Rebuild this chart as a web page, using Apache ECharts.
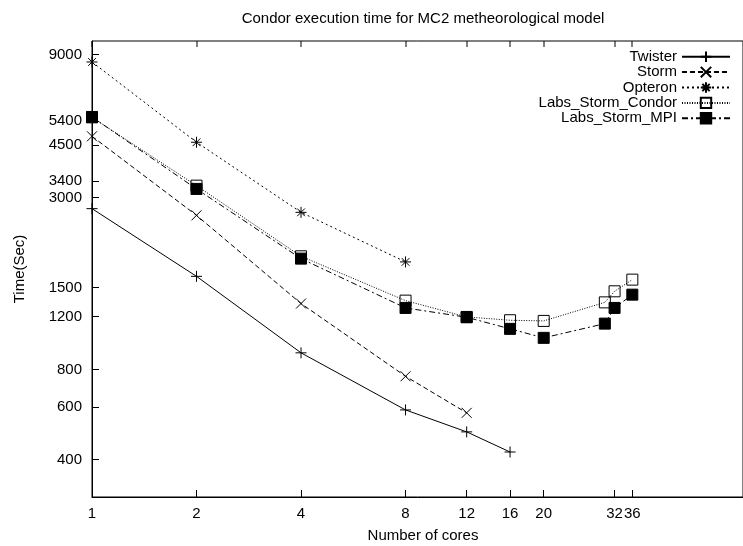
<!DOCTYPE html>
<html>
<head>
<meta charset="utf-8">
<script src="https://cdn.jsdelivr.net/npm/echarts@6/dist/echarts.min.js"></script>
<style>
html,body{margin:0;padding:0;background:#fff;}
#c{width:743px;height:546px;}
</style>
</head>
<body>
<div id="c"></div>
<script>
// ---- data ----
var xTicks = [1, 2, 4, 8, 12, 16, 20, 32, 36];
var yTicks = [400, 600, 800, 1200, 1500, 3000, 3400, 4500, 5400, 9000];

var twisterX = [1, 2, 4, 8, 12, 16];
var twisterY = [2755, 1637, 909, 586, 495, 424];

var stormX = [1, 2, 4, 8, 12];
var stormY = [4805, 2617, 1328, 759, 573];

var opteronX = [1, 2, 4, 8];
var opteronY = [8510, 4590, 2678, 1829];

var condorX = [1, 2, 4, 8, 12, 16, 20, 30, 32, 36];
var condorY = [5560, 3288, 1910, 1358, 1198, 1168, 1162, 1340, 1459, 1596];

var mpiX = [1, 2, 4, 8, 12, 16, 20, 30, 32, 36];
var mpiY = [5576, 3206, 1876, 1284, 1195, 1093, 1020, 1138, 1284, 1422];

var titleText = 'Condor execution time for MC2 metheorological model';
var xName = 'Number of cores';
var yName = 'Time(Sec)';

function pairs(xs, ys) { return xs.map(function (x, i) { return [x, ys[i]]; }); }

var FONT = 'Liberation Sans';
var chart = echarts.init(document.getElementById('c'), null, {renderer: 'canvas'});

var base = {
  type: 'line',
  showSymbol: true,
  animation: false,
  clip: false,
  emphasis: {disabled: true}
};

function mk(name, xs, ys, sym, size, dash, fill) {
  return Object.assign({}, base, {
    name: name,
    data: pairs(xs, ys),
    symbol: sym,
    symbolSize: size,
    itemStyle: {color: fill, borderColor: '#000', borderWidth: 1},
    lineStyle: {color: '#000', width: 1, type: dash}
  });
}

var XMAX = 75;
var YMIN = 300, YMAX = 10000;

var option = {
  animation: false,
  backgroundColor: '#fff',
  textStyle: {fontFamily: FONT},
  grid: {left: 92, right: 0, top: 41, bottom: 49, containLabel: false,
    show: true, borderColor: '#000', borderWidth: 1, backgroundColor: 'rgba(0,0,0,0)'},
  legend: {
    orient: 'vertical',
    align: 'right',
    right: 7,
    top: 44,
    itemWidth: 48,
    itemHeight: 13,
    itemGap: 0,
    textStyle: {fontFamily: FONT, fontSize: 15, color: '#000', lineHeight: 15.4, padding: [0, 0, 0, 0]},
    data: ['Twister', 'Storm', 'Opteron', 'Labs_Storm_Condor', 'Labs_Storm_MPI']
  },
  xAxis: [{
    type: 'log', logBase: 2, min: 1, max: XMAX, position: 'bottom',
    axisLine: {show: true, onZero: false, lineStyle: {color: '#000', width: 1}},
    axisTick: {show: true, inside: true, length: 7, customValues: xTicks, lineStyle: {color: '#000'}},
    axisLabel: {show: true, customValues: xTicks, margin: 9, fontSize: 15, color: '#000', fontFamily: FONT, hideOverlap: false,
      formatter: function (v) { return String(Math.round(v)); }},
    splitLine: {show: false}, minorTick: {show: false}
  }],
  yAxis: [{
    type: 'log', logBase: 10, min: YMIN, max: YMAX,
    axisLine: {show: true, onZero: false, lineStyle: {color: '#000', width: 1}},
    axisTick: {show: true, inside: true, length: 7, customValues: yTicks, lineStyle: {color: '#000'}},
    axisLabel: {show: true, customValues: yTicks, margin: 10, fontSize: 15, color: '#000', fontFamily: FONT,
      formatter: function (v) { return String(Math.round(v)); }},
    splitLine: {show: false}, minorTick: {show: false}
  }],
  graphic: [
    {type: 'text', x: 423, y: 19, style: {text: titleText, fontSize: 15, fontFamily: FONT, fill: '#000', align: 'center', verticalAlign: 'middle'}},
    {type: 'text', x: 423, y: 536, style: {text: xName, fontSize: 15, fontFamily: FONT, fill: '#000', align: 'center', verticalAlign: 'middle'}},
    {type: 'text', x: 20, y: 269, rotation: Math.PI / 2, style: {text: yName, fontSize: 15, fontFamily: FONT, fill: '#000', align: 'center', verticalAlign: 'middle'}}
  ],
  series: [
    mk('Twister', twisterX, twisterY, 'path://M0,5L10,5M5,0L5,10', 11, 'solid', '#000'),
    mk('Storm', stormX, stormY, 'path://M0,0L10,10M10,0L0,10', 10, [5, 3], '#000'),
    mk('Opteron', opteronX, opteronY, 'path://M0,5L10,5M5,0L5,10M1.5,1.5L8.5,8.5M8.5,1.5L1.5,8.5', 11, [2, 3], '#000'),
    mk('Labs_Storm_Condor', condorX, condorY, 'rect', 11, [1, 1.5], 'rgba(0,0,0,0)'),
    mk('Labs_Storm_MPI', mpiX, mpiY, 'rect', 11, [6, 3, 2, 3], '#000'),
    {
      type: 'custom', name: '_topticks', silent: true, animation: false, z: 20,
      coordinateSystem: 'cartesian2d',
      data: xTicks.map(function (x) { return [x, 5000]; }),
      encode: {x: 0, y: 1},
      renderItem: function (params, api) {
        var p = api.coord([api.value(0), YMAX]);
        var x = Math.round(p[0]);
        return {type: 'rect', shape: {x: x - 0.5, y: Math.round(p[1]), width: 1, height: 6},
          style: {fill: '#000'}, z2: 100};
      }
    }
  ]
};
chart.setOption(option);
</script>
</body>
</html>
